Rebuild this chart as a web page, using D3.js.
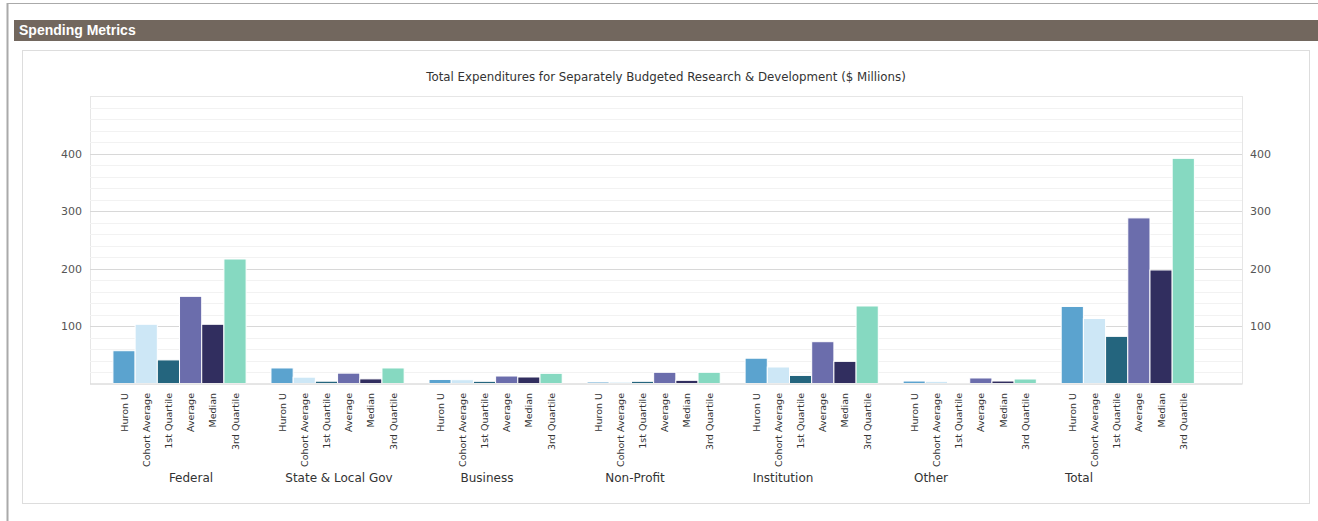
<!DOCTYPE html>
<html>
<head>
<meta charset="utf-8">
<script src="https://cdn.jsdelivr.net/npm/d3@7"></script>
<style>
  html, body { margin: 0; padding: 0; background: #fff; }
  svg { display: block; }
</style>
</head>
<body>
<svg id="chart" width="1318" height="521"></svg>
<script>
const groups = ["Federal", "State & Local Gov", "Business", "Non-Profit", "Institution", "Other", "Total"];
const seriesNames = ["Huron U", "Cohort Average", "1st Quartile", "Average", "Median", "3rd Quartile"];
const seriesColors = ["#5ba3cf", "#cde7f6", "#24657e", "#6b6dac", "#312e5f", "#86d9c1"];
const huronU        = [57, 27, 7, 2.6, 44, 4.3, 134];
const cohortAverage = [103, 11, 6.6, 2.5, 28.7, 3.8, 113];
const firstQuartile = [41, 4, 3.8, 3.8, 14, 0.2, 82];
const average       = [151.6, 18, 13, 19.5, 72.7, 9.6, 288];
const median        = [103, 8, 11.3, 5.5, 38.5, 4.3, 197.4];
const thirdQuartile = [216.5, 27, 17.7, 19.5, 134.8, 7.8, 391.6];
const yTicks = [100, 200, 300, 400];
const title = "Total Expenditures for Separately Budgeted Research & Development ($ Millions)";
const header = "Spending Metrics";

const seriesValues = [huronU, cohortAverage, firstQuartile, average, median, thirdQuartile];
const font = "'DejaVu Sans', Verdana, sans-serif";
const svg = d3.select("#chart");

// outer frame
svg.append("line").attr("x1", 7).attr("x2", 1318).attr("y1", 3.5).attr("y2", 3.5).attr("stroke", "#aaa").attr("stroke-width", 1);
svg.append("line").attr("x1", 7.5).attr("x2", 7.5).attr("y1", 3).attr("y2", 521).attr("stroke", "#aaa").attr("stroke-width", 2);

// header bar
svg.append("rect").attr("x", 14).attr("y", 20).attr("width", 1304).attr("height", 21).attr("fill", "#72675e");
svg.append("text").attr("x", 19).attr("y", 35).attr("fill", "#fff").attr("font-family", "Arial, 'Liberation Sans', sans-serif")
  .attr("font-weight", "bold").attr("font-size", 14).text(header);

// inner panel
svg.append("rect").attr("x", 22.5).attr("y", 50.5).attr("width", 1287).attr("height", 453).attr("fill", "#fff").attr("stroke", "#ddd");

// plot area
const plot = { left: 90, right: 1242, top: 96, bottom: 383.5 };
const y = d3.scaleLinear().domain([0, 500]).range([plot.bottom, plot.top]);

svg.append("rect").attr("x", plot.left + 0.5).attr("y", plot.top + 0.5)
  .attr("width", plot.right - plot.left).attr("height", plot.bottom - plot.top)
  .attr("fill", "#fff").attr("stroke", "#e6e6e6");

// minor grid
const minor = d3.range(20, 500, 20).filter(v => v % 100 !== 0);
svg.append("g").selectAll("line").data(minor).join("line")
  .attr("x1", plot.left).attr("x2", plot.right)
  .attr("y1", d => Math.round(y(d)) + 0.5).attr("y2", d => Math.round(y(d)) + 0.5)
  .attr("stroke", "#f2f2f2");
// major grid
svg.append("g").selectAll("line").data(yTicks).join("line")
  .attr("x1", plot.left).attr("x2", plot.right)
  .attr("y1", d => Math.round(y(d)) + 0.5).attr("y2", d => Math.round(y(d)) + 0.5)
  .attr("stroke", "#d8d8d8");

// axes labels
const leftAxis = d3.axisLeft(y).tickValues(yTicks).tickSize(0).tickPadding(8);
const gl = svg.append("g").attr("transform", `translate(${plot.left},0)`).call(leftAxis);
gl.select(".domain").remove();
gl.selectAll("text").attr("font-family", font).attr("font-size", 11).attr("fill", "#555");

const rightAxis = d3.axisRight(y).tickValues(yTicks).tickSize(0).tickPadding(8);
const gr = svg.append("g").attr("transform", `translate(${plot.right},0)`).call(rightAxis);
gr.select(".domain").remove();
gr.selectAll("text").attr("font-family", font).attr("font-size", 11).attr("fill", "#555");

// x scales
const x0 = d3.scaleBand().domain(groups).range([100.5, 1206.8]).paddingInner(0).paddingOuter(0);
const x1 = d3.scaleBand().domain(seriesNames).range([0, x0.bandwidth()]).paddingOuter(0.56).paddingInner(0);

// bars
const gBars = svg.append("g");
groups.forEach((g, gi) => {
  gBars.append("g").attr("transform", `translate(${x0(g)},0)`)
    .selectAll("rect").data(seriesNames.map((s, si) => ({ s, si, v: seriesValues[si][gi] })))
    .join("rect")
    .attr("x", d => x1(d.s))
    .attr("width", x1.bandwidth())
    .attr("y", d => y(d.v))
    .attr("height", d => plot.bottom - y(d.v))
    .attr("fill", d => seriesColors[d.si])
    .attr("stroke", "#fff").attr("stroke-width", 1);
});

// baseline
svg.append("line").attr("x1", plot.left).attr("x2", plot.right).attr("y1", plot.bottom + 0.5).attr("y2", plot.bottom + 0.5).attr("stroke", "#d8d8d8");

// rotated series labels
const gLab = svg.append("g");
groups.forEach(g => {
  seriesNames.forEach(s => {
    const cx = x0(g) + x1(s) + x1.bandwidth() / 2;
    gLab.append("text")
      .attr("transform", `translate(${cx + 3.5},393) rotate(-90)`)
      .attr("text-anchor", "end")
      .attr("font-family", font).attr("font-size", 9.5).attr("fill", "#333")
      .text(s);
  });
});

// group labels
const xg = d3.scalePoint().domain(groups).range([191, 1079]);
svg.append("g").selectAll("text").data(groups).join("text")
  .attr("x", d => xg(d)).attr("y", 481.5)
  .attr("text-anchor", "middle")
  .attr("font-family", font).attr("font-size", 12).attr("fill", "#333")
  .text(d => d);

// title
svg.append("text").attr("x", (plot.left + plot.right) / 2).attr("y", 81)
  .attr("text-anchor", "middle").attr("font-family", font).attr("font-size", 11.8).attr("fill", "#333")
  .text(title);
</script>
</body>
</html>
